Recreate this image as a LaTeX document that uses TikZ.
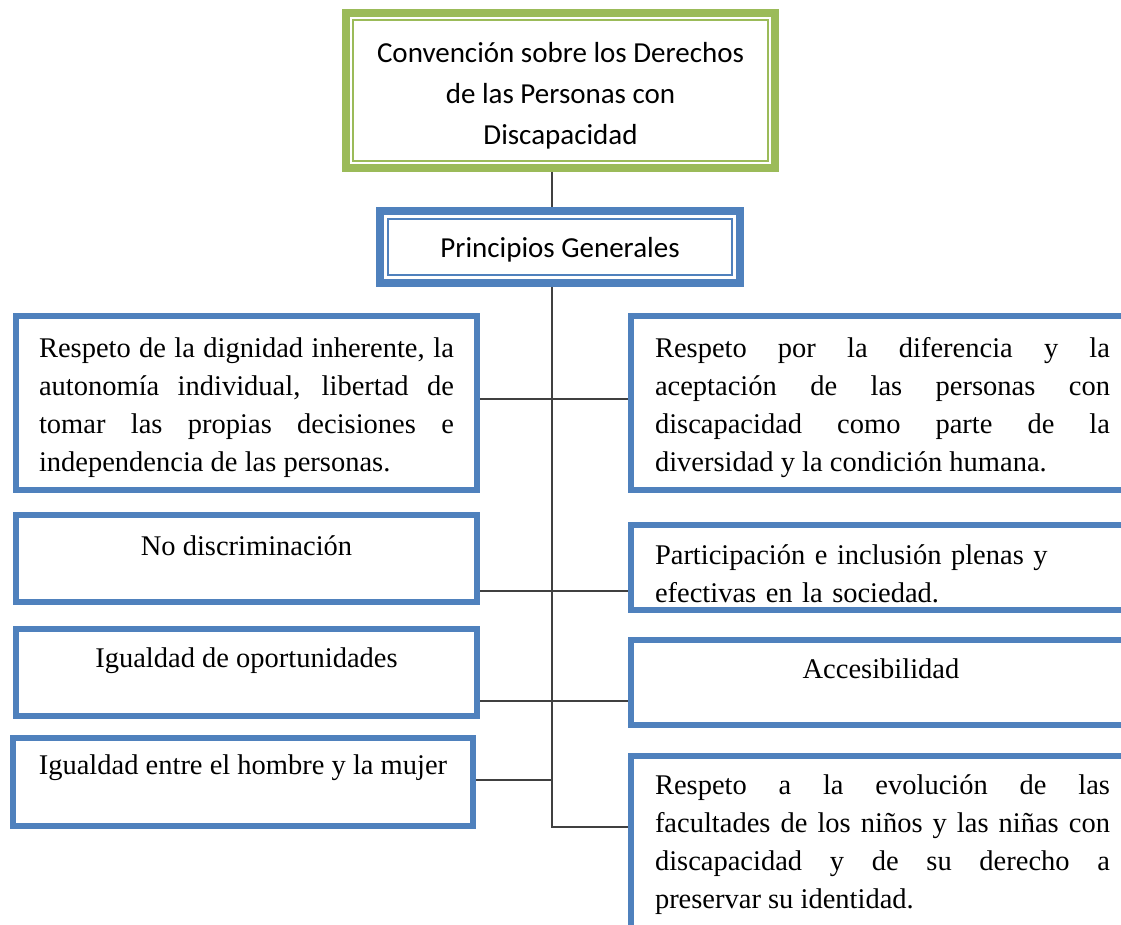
\documentclass[tikz,border=0pt]{standalone}
\usepackage{fontspec}
\setmainfont{Liberation Serif}
\newfontfamily\calibri{Carlito}
\definecolor{ogreen}{HTML}{9BBB59}
\definecolor{oblue}{HTML}{4F81BD}
\usetikzlibrary{positioning}

\begin{document}
\begin{tikzpicture}[x=1pt, y=-1pt]
\tikzstyle{every node} = [font=\fontsize{28.5}{38}\selectfont]
\tikzstyle{box} = [rectangle, draw=oblue, line width=6pt, minimum width=461pt, minimum height=87pt]
\tikzstyle{rbox} = [box, minimum width=504pt]
\tikzstyle{head} = [rectangle, line width=8pt, align=center, font=\calibri\fontsize{29}{41}\selectfont]
\tikzstyle{para} = [text width=415pt, align=justify]
\tikzstyle{link} = [draw=black!75, line width=1.5pt]
\useasboundingbox (0,0) rectangle (1121,925);
\clip (0,0) rectangle (1121,925);

\node[head, draw=ogreen, minimum width=429pt, minimum height=155pt] (top) at (560.5, 90.5)
  {\rule{0pt}{30pt}Convención sobre los Derechos\\de las Personas con\\Discapacidad};
\node[head, draw=oblue, minimum width=360pt, minimum height=72pt] (pg) at (560, 247)
  {\rule{0pt}{26pt}Principios Generales};
\draw[ogreen, line width=2pt] ([shift={(11,11)}]top.north west) rectangle ([shift={(-11,-11)}]top.south east);
\draw[oblue, line width=2pt] ([shift={(12,12)}]pg.north west) rectangle ([shift={(-12,-12)}]pg.south east);

% left column
\node[box, minimum height=174pt] (L1) at (246.5, 403) {};
\node[para] (L1t) at (246.5, 408) {Respeto de la dignidad inherente, la\linebreak
  autonomía individual, libertad de\linebreak tomar las propias decisiones e\linebreak
  independencia de las personas.};
\node[box] (L2) at (246.5, 558.5) {};
\node (L2t) at (246.5, 546) {No discriminación};
\node[box] (L3) at (246.5, 672.5) {};
\node (L3t) at (246.5, 661) {Igualdad de oportunidades};
\node[box, minimum width=460pt, minimum height=88pt] (L4) at (243, 782) {};
\node (L4t) at (243, 768) {Igualdad entre el hombre y la mujer};

% right column
\node[rbox, minimum height=174pt] (R1) at (883, 403) {};
\node[para, text width=455pt] (R1t) at (882.5, 408) {Respeto por la diferencia y la\linebreak
  aceptación de las personas con\linebreak discapacidad como parte de la\linebreak
  diversidad y la condición humana.};
\node[rbox, minimum height=85pt] (R2) at (883, 567.5) {};
\node[text width=455pt, align=left] (R2t) at (882.5, 573.5) {Participación e inclusión plenas y\\
  efectivas en la sociedad.};
\node[rbox, minimum height=85pt] (R3) at (883, 682.5) {};
\node (R3t) at (881, 669) {Accesibilidad};
\node[rbox, minimum height=204pt] (R4) at (883, 858) {};
\node[para, text width=455pt] (R4t) at (882.5, 845) {Respeto a la evolución de las\linebreak
  facultades de los niños y las niñas con\linebreak discapacidad y de su derecho a\linebreak
  preservar su identidad.};

\coordinate (j1) at (552, 399);
\coordinate (j2) at (552, 591);
\coordinate (j3) at (552, 701);
\coordinate (j4) at (552, 780);
\coordinate (tail) at (552, 827);

\draw[link] (top.south -| j1) -- (pg.north -| j1);
\draw[link] (pg.south -| j1) -- (tail) -- (tail -| R4.west);
\draw[link] (L1.east |- j1) -- (R1.west |- j1);
\draw[link] (L2.east |- j2) -- (R2.west |- j2);
\draw[link] (L3.east |- j3) -- (R3.west |- j3);
\draw[link] (L4.east |- j4) -- (j4);
\end{tikzpicture}
\end{document}
